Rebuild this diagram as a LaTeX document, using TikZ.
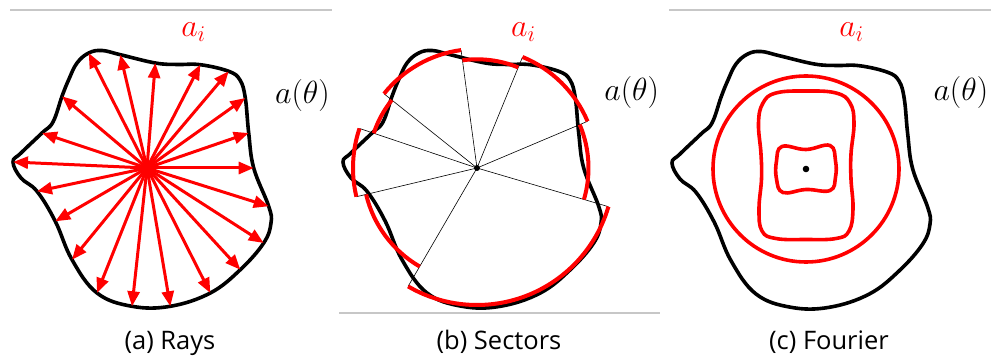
\RequirePackage{fix-cm}
\documentclass[tikz,border=0pt]{standalone}
\usepackage{fontspec}
\setsansfont{Open Sans}
\usetikzlibrary{arrows.meta}

\newcommand{\blobpath}{plot[smooth cycle, tension=0.65] coordinates {(-58.3,-115) (-45,-117.5) (-26.7,-113.3) (8.3,-105) (30,-103.5) (53.3,-103.3) (81.7,-96.7) (93,-88) (98.3,-70) (101.7,-35) (106.7,0) (121.7,38.3) (124,55) (116.7,75) (93.3,101.7) (63.3,125) (23.3,138.3) (-15,138.3) (-50,125) (-75,91.7) (-91.7,53.3) (-110,23.3) (-126,10) (-134,-6) (-126,-15) (-105,-35) (-94,-46) (-85,-71.7) (-78.3,-88.3) (-70,-105)}}

\begin{document}
\begin{tikzpicture}[x=1pt, y=-1pt,
	outline/.style={line width=3.6pt, black},
	ray/.style={line width=3pt, red, -{Triangle[length=15pt, width=12pt]}},
	sector/.style={line width=4pt, red},
	spoke/.style={line width=0.6pt, black},
	harm/.style={line width=3.6pt, red},
	caption/.style={font=\sffamily\fontsize{25.5}{28}\selectfont, anchor=base},
	mlabel/.style={font=\fontsize{32}{35}\selectfont, anchor=base},
	rule/.style={line width=1.3pt, black!22}]
	\useasboundingbox (0,0) rectangle (991,358);
	\coordinate (ca) at (147,168);
	\coordinate (cb) at (477,168);
	\coordinate (cc) at (806,169);
	\draw[rule] (10,10) -- (332,10);
	\draw[rule] (339,313) -- (660,313);
	\draw[rule] (669,10) -- (991,10);
	% (a) rays
	\begin{scope}[shift={(ca)}]
		\draw[outline] \blobpath;
		\foreach \x/\y in {-58.3/-115, -26.7/-113.3, 8.3/-105, 53.3/-103.3, 81.7/-96.7, 98.3/-70, 101.7/-35, 106.7/0, 121.7/38.3, 116.7/75, 93.3/101.7, 63.3/125, 23.3/138.3, -15/138.3, -50/125, -75/91.7, -91.7/53.3, -110/23.3, -134/-6, -105/-35, -85/-71.7} {\draw[ray] (0,0) -- (\x,\y);}
	\end{scope}
	% (b) sectors
	\begin{scope}[shift={(cb)}]
		\draw[outline] \blobpath;
		\foreach \a/\r in {262.3/119, -67.7/120, -22.9/120, 16.4/137, 120.2/137, 166.6/124, 198.6/124, 218.6/119} {\draw[spoke] (0,0) -- (\a:\r);}
		\foreach \a/\b/\r in {-97.7/-67.7/108.7, -67.7/-22.9/120, -22.9/16.4/111.5, 16.4/120.2/137, 120.2/166.6/114, 166.6/198.6/124, 198.6/218.6/109, 218.6/262.3/119} {\draw[sector] (\a:\r) arc[start angle=\a, end angle=\b, radius=\r];}
		\fill (0,0) circle[radius=3];
	\end{scope}
	% (c) fourier
	\begin{scope}[shift={(cc)}]
		\draw[outline] \blobpath;
		\draw[harm] (0,0) circle[radius=93];
		\draw[harm] plot[smooth cycle, tension=0.7] coordinates {(0,-78) (30,-76) (44,-66) (48,-46) (45,-15) (45,10) (47,40) (43,62) (30,69.5) (0,70.5) (-30,69.5) (-44,62) (-47,40) (-44.5,10) (-45,-15) (-47.5,-46) (-43,-66) (-30,-76)};
		\draw[harm] plot[smooth cycle, tension=0.7] coordinates {(-24,-22.5) (0,-19.5) (24,-23.5) (29.5,-8) (29.5,8) (24,21.5) (0,20.5) (-23,23.5) (-29.5,10) (-29.5,-8)};
		\fill (0,0) circle[radius=3.3];
	\end{scope}
	\node[mlabel, red] (aia) at (193.5,37) {$a_i$};
	\node[mlabel, red] (aib) at (523.3,37) {$a_i$};
	\node[mlabel, red] (aic) at (851.5,37) {$a_i$};
	\node[mlabel] (tha) at (302.5,104) {$a(\theta)$};
	\node[mlabel] (thb) at (631.7,101) {$a(\theta)$};
	\node[mlabel] (thc) at (960.8,101) {$a(\theta)$};
	\node[caption] (capa) at (170,349) {(a) Rays};
	\node[caption] (capb) at (499,349) {(b) Sectors};
	\node[caption] (capc) at (829,349) {(c) Fourier};
\end{tikzpicture}
\end{document}
